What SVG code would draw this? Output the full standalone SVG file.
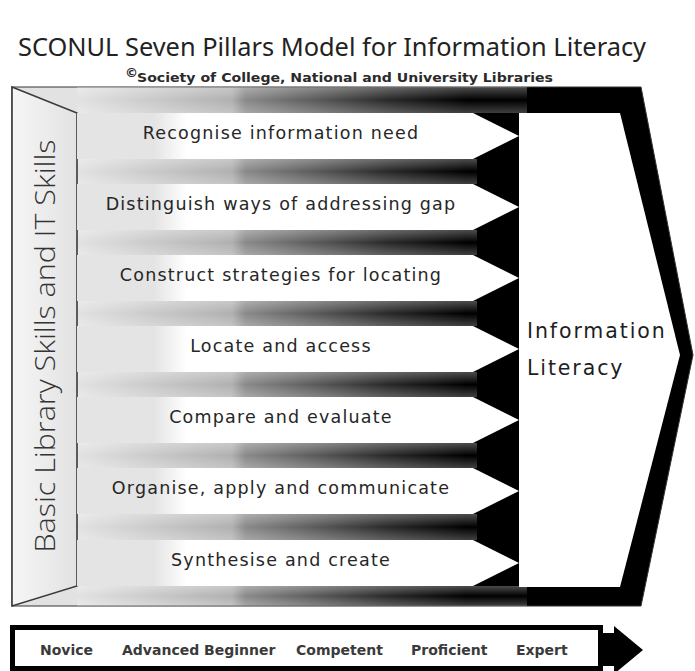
<svg xmlns="http://www.w3.org/2000/svg" width="695" height="671" viewBox="0 0 695 671">
<defs>
<linearGradient id="frameGrad" gradientUnits="userSpaceOnUse" x1="77" y1="0" x2="520" y2="0">
<stop offset="0" stop-color="#e2e2e2"/>
<stop offset="0.35" stop-color="#b0b0b0"/>
<stop offset="0.38" stop-color="#8a8a8a"/>
<stop offset="0.7" stop-color="#2a2a2a"/>
<stop offset="0.88" stop-color="#000"/>
<stop offset="1" stop-color="#000"/>
</linearGradient>
<linearGradient id="bandShade" x1="0" y1="0" x2="0" y2="1">
<stop offset="0" stop-color="#fff" stop-opacity="0.3"/>
<stop offset="0.5" stop-color="#fff" stop-opacity="0"/>
<stop offset="1" stop-color="#fff" stop-opacity="0.25"/>
</linearGradient>
<linearGradient id="panelGrad" x1="0" y1="0" x2="1" y2="0">
<stop offset="0" stop-color="#f6f6f6"/>
<stop offset="1" stop-color="#e2e2e2"/>
</linearGradient>
<linearGradient id="pillarGrad" gradientUnits="userSpaceOnUse" x1="77" y1="0" x2="110" y2="0">
<stop offset="0" stop-color="#e4e4e4"/>
<stop offset="1" stop-color="#fff"/>
</linearGradient>
<polygon id="pillar" points="0,0 396,0 442,23 396,46 0,46"/>
</defs>
<style>
.title{font-family:"Noto Sans","DejaVu Sans",sans-serif;font-size:26px;fill:#222}
.sub{font-family:"DejaVu Sans",sans-serif;font-size:13px;font-weight:bold;fill:#2a2a2a}
.pt{font-family:"DejaVu Sans","Verdana",sans-serif;font-size:17.5px;letter-spacing:1.2px;fill:#262626;text-anchor:middle}
.il{font-family:"DejaVu Sans",sans-serif;font-size:20.5px;letter-spacing:1.9px;fill:#1e1e1e}
.vt{font-family:"Open Sans","Noto Sans",sans-serif;font-size:28px;font-weight:300;fill:#333;text-anchor:middle}
.lv{font-family:"DejaVu Sans",sans-serif;font-size:14px;font-weight:bold;fill:#3a3a3a}
.pill{fill:url(#pillarGrad)}
</style>
<rect width="695" height="671" fill="#fff"/>

<g id="title">
<text class="title" x="18" y="56" textLength="628" lengthAdjust="spacingAndGlyphs">SCONUL Seven Pillars Model for Information Literacy</text>
<text class="sub" x="125" y="77" font-size="9" font-weight="normal">©</text>
<text class="sub" x="137" y="82" textLength="416" lengthAdjust="spacingAndGlyphs">Society of College, National and University Libraries</text>
</g>

<g id="frame">
<polygon points="12,87 641,87 693,355 641,606 12,606" fill="url(#frameGrad)" stroke="#333" stroke-width="1"/>
<rect x="77" y="87" width="450" height="26" fill="url(#bandShade)"/>
<rect x="77" y="159" width="400" height="25" fill="url(#bandShade)"/>
<rect x="77" y="230" width="400" height="25" fill="url(#bandShade)"/>
<rect x="77" y="301" width="400" height="25" fill="url(#bandShade)"/>
<rect x="77" y="372" width="400" height="25" fill="url(#bandShade)"/>
<rect x="77" y="443" width="400" height="25" fill="url(#bandShade)"/>
<rect x="77" y="514" width="400" height="26" fill="url(#bandShade)"/>
<rect x="77" y="586" width="450" height="20" fill="url(#bandShade)"/>
</g>

<g id="left-panel">
<polygon points="12,87 77,113 77,586 12,606" fill="url(#panelGrad)" stroke="#3a3a3a" stroke-width="1.6"/>
<text class="vt" transform="translate(55,346) rotate(-90)" x="0" y="0" textLength="413" lengthAdjust="spacingAndGlyphs">Basic Library Skills and IT Skills</text>
</g>

<g id="pillar-1"><use href="#pillar" class="pill" x="77" y="113"/><text class="pt" x="281" y="139">Recognise information need</text></g>
<g id="pillar-2"><use href="#pillar" class="pill" x="77" y="184"/><text class="pt" x="281" y="210">Distinguish ways of addressing gap</text></g>
<g id="pillar-3"><use href="#pillar" class="pill" x="77" y="255"/><text class="pt" x="281" y="281">Construct strategies for locating</text></g>
<g id="pillar-4"><use href="#pillar" class="pill" x="77" y="326"/><text class="pt" x="281" y="352">Locate and access</text></g>
<g id="pillar-5"><use href="#pillar" class="pill" x="77" y="397"/><text class="pt" x="281" y="423">Compare and evaluate</text></g>
<g id="pillar-6"><use href="#pillar" class="pill" x="77" y="468"/><text class="pt" x="281" y="494">Organise, apply and communicate</text></g>
<g id="pillar-7"><use href="#pillar" class="pill" x="77" y="540"/><text class="pt" x="281" y="566">Synthesise and create</text></g>

<g id="information-literacy">
<polygon points="519,113 620,113 680,355 620,587 519,587" fill="#fff"/>
<text class="il" x="527" y="338">Information</text>
<text class="il" x="527" y="375">Literacy</text>
</g>

<g id="scale-bar">
<rect x="12.5" y="627.5" width="588" height="41" fill="#fff" stroke="#000" stroke-width="5"/>
<polygon points="600,633 614,633 614,626 643,650 614,674 614,666 600,666" fill="#000"/>
<text class="lv" x="40" y="655">Novice</text>
<text class="lv" x="122" y="655">Advanced Beginner</text>
<text class="lv" x="296" y="655">Competent</text>
<text class="lv" x="411" y="655">Proficient</text>
<text class="lv" x="516" y="655">Expert</text>
</g>

<g id="connectors"/>
</svg>
